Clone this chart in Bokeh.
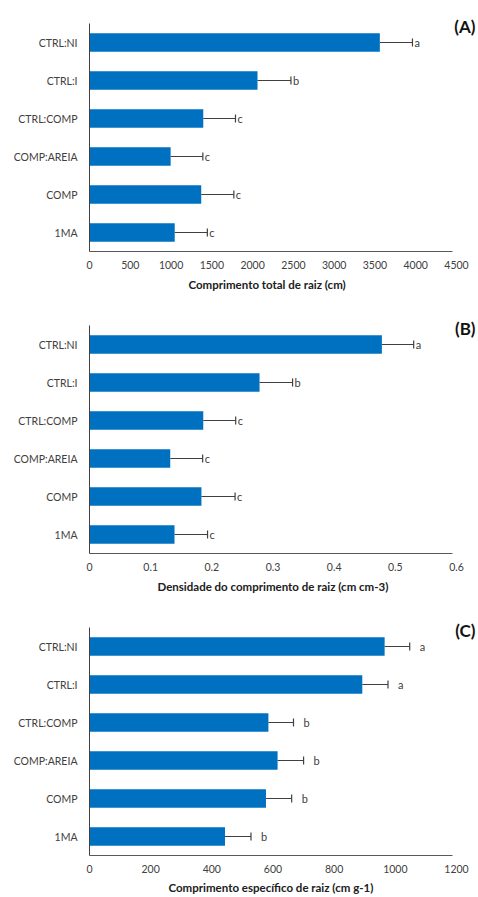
from bokeh.plotting import figure
from bokeh.layouts import column
from bokeh.models import Range1d, Label, ColumnDataSource, FixedTicker, Title
from bokeh.core.properties import value
from bokeh.embed import file_html
from bokeh.resources import INLINE

# Treatments, listed top to bottom
treatments = ["CTRL:NI", "CTRL:I", "CTRL:COMP", "COMP:AREIA", "COMP", "1MA"]

# (A) total root length (cm)
total_length = [3560, 2060, 1395, 995, 1370, 1045]
total_length_err = [400, 410, 395, 395, 400, 400]
total_length_groups = ["a", "b", "c", "c", "c", "c"]
total_length_ticks = [0, 500, 1000, 1500, 2000, 2500, 3000, 3500, 4000, 4500]

# (B) root length density (cm cm-3)
density = [0.478, 0.278, 0.186, 0.132, 0.183, 0.139]
density_err = [0.052, 0.054, 0.053, 0.053, 0.055, 0.054]
density_groups = ["a", "b", "c", "c", "c", "c"]
density_ticks = [0, 0.1, 0.2, 0.3, 0.4, 0.5, 0.6]

# (C) specific root length (cm g-1)
specific_length = [965, 892, 585, 615, 577, 443]
specific_length_err = [82, 84, 82, 85, 84, 85]
specific_length_groups = ["a", "a", "b", "b", "b", "b"]
specific_length_ticks = [0, 200, 400, 600, 800, 1000, 1200]

FONT = "Lato"
BAR = "#0070C0"
INK = "#404040"

LEFT = 89             # left border (px)
AXIS_W = 367          # pixel width of the scaled x span
FRAME_W = 478 - LEFT  # frame runs to the right edge so the panel tag fits
ROWS_H = 228          # pixel height of the six category rows
HEADROOM = 9          # extra frame height above the rows for the panel tag

N = len(treatments)
rows = [N - 0.5 - i for i in range(N)]   # row centres, first treatment on top


def make_panel(vals, errs, groups, ticks, xlabel, title_x, title_gap, tag,
               height, bottom, letter_gap):
    src = ColumnDataSource(dict(
        row=rows,
        val=vals,
        hi=[v + e for v, e in zip(vals, errs)],
        grp=groups,
    ))
    xmax = ticks[-1]
    top = height - bottom - ROWS_H - HEADROOM
    p = figure(
        width=478, height=height,
        x_range=Range1d(0, xmax * FRAME_W / AXIS_W),
        y_range=Range1d(0, N * (ROWS_H + HEADROOM) / ROWS_H),
        output_backend="svg", toolbar_location=None,
        min_border_left=LEFT, min_border_right=0,
        min_border_top=top, min_border_bottom=bottom,
        outline_line_color=None,
    )
    p.hbar(y="row", left=0, right="val", height=0.49, fill_color=BAR,
           line_color=None, source=src)
    p.segment(x0="val", y0="row", x1="hi", y1="row", line_color=INK,
              line_width=1, source=src)
    p.rect(x="hi", y="row", width=1.2, height=8, width_units="screen",
           height_units="screen", fill_color=INK, line_color=None, source=src)
    p.text(x="hi", y="row", text="grp", x_offset=letter_gap, text_baseline="middle",
           text_align="left", text_font=value(FONT), text_font_size="11px",
           text_color=INK, source=src)

    p.xgrid.visible = False
    p.ygrid.visible = False

    xa = p.xaxis[0]
    xa.bounds = (0, xmax * 0.99)
    xa.ticker = FixedTicker(ticks=ticks)
    xa.major_label_overrides = {t: ("%g" % t) for t in ticks}
    xa.major_tick_line_color = None
    xa.minor_tick_line_color = None
    xa.major_tick_out = 0
    xa.major_label_standoff = 9
    xa.axis_line_color = "#595959"
    xa.major_label_text_font = FONT
    xa.major_label_text_font_size = "10.5px"
    xa.major_label_text_color = INK

    p.add_layout(Title(
        text=xlabel, align="left", offset=title_x,
        standoff=title_gap, text_font=FONT, text_font_size="11.5px",
        text_font_style="bold", text_color="#202020",
    ), "below")

    ya = p.yaxis[0]
    ya.bounds = (0, N)
    ya.ticker = FixedTicker(ticks=rows)
    ya.major_label_overrides = {r: name for r, name in zip(rows, treatments)}
    ya.major_tick_line_color = None
    ya.minor_tick_line_color = None
    ya.major_tick_out = 0
    ya.major_label_standoff = 12
    ya.axis_line_color = "#404040"
    ya.major_label_text_font = FONT
    ya.major_label_text_font_size = "10.5px"
    ya.major_label_text_color = INK

    p.add_layout(Label(
        x=FRAME_W - 3, y=ROWS_H - 2.5, x_units="screen", y_units="screen", text=tag,
        text_align="right", text_baseline="middle", text_font=FONT,
        text_font_size="17px", text_font_style="bold", text_color="#111111",
    ))
    return p


pa = make_panel(total_length, total_length_err, total_length_groups,
                total_length_ticks, "Comprimento  total de raiz (cm)", 99, 8, "(A)",
                302, 51, 2)
pb = make_panel(density, density_err, density_groups, density_ticks,
                "Densidade do comprimento de raiz (cm cm-3)", 68, 8, "(B)",
                302, 51, 2)
pc = make_panel(specific_length, specific_length_err, specific_length_groups,
                specific_length_ticks, "Comprimento  específico de raiz (cm g-1)", 79, 6, "(C)",
                293, 42, 10)

layout = column(pa, pb, pc, spacing=0)
open("out.html", "w").write(file_html(layout, INLINE))
